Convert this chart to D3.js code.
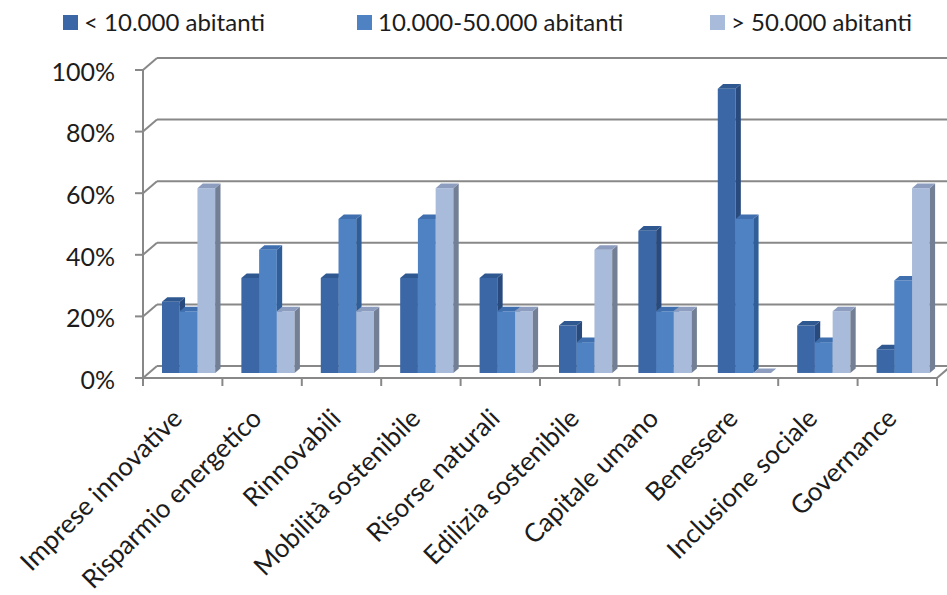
<!DOCTYPE html>
<html>
<head>
<meta charset="utf-8">
<script src="https://cdn.jsdelivr.net/npm/d3@7"></script>
<style>
  html, body { margin: 0; padding: 0; background: #ffffff; }
  svg { display: block; }
  text { font-family: Lato, "Open Sans", sans-serif; fill: #1c1c1c; }
</style>
</head>
<body>
<svg id="chart" width="947" height="595"></svg>
<script>
// Share of municipalities per theme, by population size class (percent)
const categories = [
  "Imprese innovative", "Risparmio energetico", "Rinnovabili", "Mobilità sostenibile",
  "Risorse naturali", "Edilizia sostenibile", "Capitale umano", "Benessere",
  "Inclusione sociale", "Governance"
];
const seriesNames = ["< 10.000 abitanti", "10.000-50.000 abitanti", "> 50.000 abitanti"];
const smallTowns  = [23.1, 30.8, 30.8, 30.8, 30.8, 15.4, 46.2, 92.3, 15.4, 7.7];
const mediumTowns = [20, 40, 50, 50, 20, 10, 20, 50, 10, 30];
const largeTowns  = [60, 20, 20, 60, 20, 40, 20, 0, 20, 60];
const yTicks = [0, 20, 40, 60, 80, 100];

const seriesValues = [smallTowns, mediumTowns, largeTowns];

// face colours per series: front, side, top
const palette = [
  { front: "#3b67a6", side: "#284a7c", top: "#2f5891", key: "#3b67a6" },
  { front: "#4f82c2", side: "#2f5e98", top: "#3f6fae", key: "#4f82c2" },
  { front: "#a9bbdb", side: "#737f95", top: "#8c9dbf", key: "#a9bbdb" }
];

const svg = d3.select("#chart");

// plot frame (front plane) and 3D depth offset
const left = 143, right = 937;
const y = d3.scaleLinear().domain([0, 100]).range([378, 70]);
const depth = { dx: 14, dy: -12 };
const bar0 = 0.42, bar1 = 0.8;   // bar slab position inside the depth

const x0 = d3.scaleBand().domain(categories).range([left, right]).padding(0);
const bw = x0.bandwidth();
const groupW = bw * 0.67;
const groupOff = (bw - groupW) / 2;
const x1 = d3.scaleBand().domain(d3.range(seriesNames.length)).range([0, groupW]).padding(0);

const P = (px, v, f) => [px + f * depth.dx, y(v) + f * depth.dy];

const gridColor = "#888888";
const grid = svg.append("g").attr("stroke", gridColor).attr("stroke-width", 2).attr("fill", "none");

// back wall gridlines plus the diagonal on the side wall
yTicks.forEach(t => {
  const [bx, by] = P(left, t, 1);
  grid.append("line").attr("x1", bx).attr("y1", by).attr("x2", 960).attr("y2", by);
  grid.append("line").attr("x1", left).attr("y1", y(t)).attr("x2", bx).attr("y2", by);
});

// floor front edge and right corner
const [fx, fy] = P(right, 0, 1);
grid.append("line").attr("x1", left).attr("y1", y(0)).attr("x2", right).attr("y2", y(0));
grid.append("line").attr("x1", right).attr("y1", y(0)).attr("x2", fx).attr("y2", fy);

// value axis on the front plane
grid.append("line").attr("x1", left).attr("y1", y(0)).attr("x2", left).attr("y2", y(100));
yTicks.forEach(t => {
  grid.append("line").attr("x1", left - 8).attr("y1", y(t)).attr("x2", left).attr("y2", y(t));
});
// category tick marks
const bounds = categories.map(c => x0(c)).concat([right]);
bounds.forEach(bx => {
  grid.append("line").attr("x1", bx).attr("y1", y(0)).attr("x2", bx).attr("y2", y(0) + 8);
});

svg.append("g").selectAll("text").data(yTicks).join("text")
  .attr("x", 115).attr("y", d => y(d) + 2)
  .attr("dy", "0.35em")
  .attr("text-anchor", "end")
  .style("font-size", "25px")
  .text(d => d + "%");

// 3D columns, drawn left to right
const bars = svg.append("g");
categories.forEach((c, i) => {
  seriesNames.forEach((s, k) => {
    const v = seriesValues[k][i];
    const xa = x0(c) + groupOff + x1(k);
    const xb = xa + x1.bandwidth();
    const col = palette[k];
    const poly = pts => pts.map(p => p.join(",")).join(" ");
    const g = bars.append("g");
    if (v > 0) {
      g.append("polygon").attr("fill", col.front)
        .attr("points", poly([P(xa, 0, bar0), P(xb, 0, bar0), P(xb, v, bar0), P(xa, v, bar0)]));
      g.append("polygon").attr("fill", col.side)
        .attr("points", poly([P(xb, 0, bar0), P(xb, v, bar0), P(xb, v, bar1), P(xb, 0, bar1)]));
    }
    g.append("polygon").attr("fill", col.top)
      .attr("points", poly([P(xa, v, bar0), P(xb, v, bar0), P(xb, v, bar1), P(xa, v, bar1)]));
  });
});

// rotated category labels
svg.append("g").selectAll("text").data(categories).join("text")
  .attr("transform", d => `translate(${x0(d) + bw / 2 + 1},${420}) rotate(-45)`)
  .attr("text-anchor", "end")
  .style("font-size", "26px")
  .text(d => d);

// legend
const legendX = [63, 357, 710];
const legend = svg.append("g");
seriesNames.forEach((s, k) => {
  legend.append("rect").attr("x", legendX[k]).attr("y", 15).attr("width", 15).attr("height", 15)
    .attr("fill", palette[k].key);
  legend.append("text").attr("x", legendX[k] + 21).attr("y", 31)
    .style("font-size", "24px").text(s);
});
</script>
</body>
</html>
